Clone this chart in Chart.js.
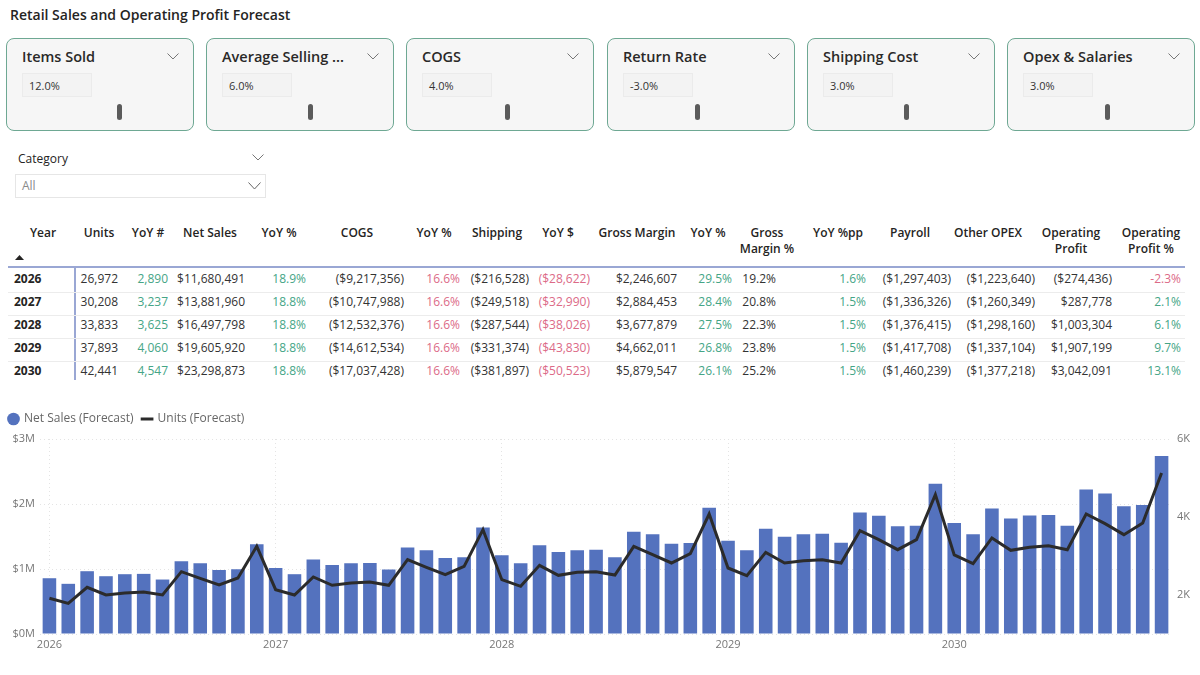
<!DOCTYPE html>
<html>
<head>
<meta charset="utf-8">
<script src="https://cdn.jsdelivr.net/npm/chart.js@4.4.1/dist/chart.umd.min.js"></script>
<style>
  body { margin: 0; width: 1200px; height: 675px; overflow: hidden; background: #fff;
         font-family: "Segoe UI", "Open Sans", sans-serif; color: #252423; position: relative; }
  .title { position: absolute; left: 10px; top: 5px; font-size: 14px; font-weight: 600; white-space: nowrap; }
  .card { position: absolute; top: 38px; width: 188px; height: 93px; border: 1.5px solid #6ea893;
          border-radius: 8px; background: #f6f6f6; box-sizing: border-box; }
  .card .name { position: absolute; left: 15px; top: 8px; font-size: 14.5px; font-weight: 600; white-space: nowrap; color: #2a2928; }
  .card svg { position: absolute; left: 160px; top: 14px; }
  .card .box { position: absolute; left: 15px; top: 34px; width: 70px; height: 24px; background: #f3f3f3;
               border: 1px solid #ebebeb; box-sizing: border-box; font-size: 11px; line-height: 23px; padding-left: 6px; color: #333; }
  .card .knob { position: absolute; top: 65px; width: 5px; height: 16px; border-radius: 2.5px; background: #5b5b5b; }
  .slicer-label { position: absolute; left: 18px; top: 150px; font-size: 12px; color: #252423; }
  .slicer-box { position: absolute; left: 15px; top: 174px; width: 251px; height: 24px; border: 1px solid #e6e6e6;
                box-sizing: border-box; font-size: 12px; line-height: 22px; padding-left: 6px; color: #8a8a8a; }
  .cell { position: absolute; font-size: 12px; white-space: nowrap; line-height: 16px; }
  .hd { font-weight: 600; color: #252423; text-align: center; transform: translateX(-50%); }
  .val { color: #333; transform: translateX(-100%); }
  .yr { font-weight: 700; color: #252423; }
  #wrap { position: absolute; left: 0; top: 404px; width: 1200px; height: 252px; }
</style>
</head>
<body>
<div class="title">Retail Sales and Operating Profit Forecast</div>
<div id="cards"></div>
<div class="slicer-label">Category</div>
<svg style="position:absolute;left:252px;top:154px" width="12" height="7"><polyline points="0.5,0.5 6,6 11.5,0.5" fill="none" stroke="#777" stroke-width="1"/></svg>
<div class="slicer-box">All</div>
<svg style="position:absolute;left:248px;top:182px" width="13" height="8"><polyline points="0.5,0.5 6.5,7 12.5,0.5" fill="none" stroke="#666" stroke-width="1"/></svg>
<div id="table"></div>
<div id="wrap"><canvas id="chart"></canvas></div>

<script>
// ---- scenario cards ----
const cardNames = ['Items Sold', 'Average Selling ...', 'COGS', 'Return Rate', 'Shipping Cost', 'Opex & Salaries'];
const cardValues = ['12.0%', '6.0%', '4.0%', '-3.0%', '3.0%', '3.0%'];
const cardLefts = [6, 206, 406, 607, 807, 1007];
const knobLefts = [110, 101, 98, 87, 96, 97];

// ---- yearly table ----
const years = [2026, 2027, 2028, 2029, 2030];
const yearUnits = [26972, 30208, 33833, 37893, 42441];
const yoyUnits = [2890, 3237, 3625, 4060, 4547];
const netSales = [11680491, 13881960, 16497798, 19605920, 23298873];
const yoyNetSales = [18.9, 18.8, 18.8, 18.8, 18.8];
const cogs = [-9217356, -10747988, -12532376, -14612534, -17037428];
const yoyCogs = [16.6, 16.6, 16.6, 16.6, 16.6];
const shipping = [-216528, -249518, -287544, -331374, -381897];
const yoyShipping = [-28622, -32990, -38026, -43830, -50523];
const grossMargin = [2246607, 2884453, 3677879, 4662011, 5879547];
const yoyGrossMargin = [29.5, 28.4, 27.5, 26.8, 26.1];
const grossMarginPct = [19.2, 20.8, 22.3, 23.8, 25.2];
const yoyMarginPp = [1.6, 1.5, 1.5, 1.5, 1.5];
const payroll = [-1297403, -1336326, -1376415, -1417708, -1460239];
const otherOpex = [-1223640, -1260349, -1298160, -1337104, -1377218];
const opProfit = [-274436, 287778, 1003304, 1907199, 3042091];
const opProfitPct = [-2.3, 2.1, 6.1, 9.7, 13.1];

// ---- monthly chart (60 months) ----
const chartYears = ['2026', '2027', '2028', '2029', '2030'];
const monthlyNetSales = [
  858000, 772000, 966000, 889000, 920000, 925000, 838000, 1119000, 1088000, 986000, 996000, 1380000,
  1017000, 920000, 1145000, 1063000, 1088000, 1094000, 991000, 1329000, 1288000, 1170000, 1180000, 1640000,
  1211000, 1088000, 1364000, 1262000, 1288000, 1298000, 1180000, 1574000, 1533000, 1390000, 1400000, 1942000,
  1436000, 1288000, 1620000, 1497000, 1533000, 1543000, 1405000, 1870000, 1819000, 1656000, 1666000, 2310000,
  1707000, 1533000, 1932000, 1778000, 1824000, 1829000, 1666000, 2223000, 2161000, 1967000, 1983000, 2739000
];
const monthlyUnits = [
  1915, 1786, 2197, 2000, 2051, 2077, 2000, 2598, 2427, 2256, 2436, 3248,
  2137, 2000, 2462, 2248, 2308, 2333, 2248, 2906, 2709, 2521, 2735, 3675,
  2393, 2222, 2761, 2504, 2581, 2598, 2513, 3248, 3034, 2821, 3060, 4077,
  2692, 2496, 3094, 2821, 2880, 2906, 2821, 3650, 3419, 3162, 3419, 4573,
  3026, 2803, 3462, 3145, 3222, 3265, 3162, 4077, 3829, 3547, 3846, 5128
];
const salesTicks = [0, 1000000, 2000000, 3000000];
const unitTicks = [2000, 4000, 6000];

const GREEN = '#45a586';
const RED = '#dc6a87';
const FONT = '"Segoe UI", "Open Sans", sans-serif';

// cards
const cardsEl = document.getElementById('cards');
cardNames.forEach((name, i) => {
    const c = document.createElement('div');
    c.className = 'card';
    c.style.left = cardLefts[i] + 'px';
    c.innerHTML = `<div class="name">${name}</div>
      <svg width="12" height="7"><polyline points="0.5,0.5 6,6 11.5,0.5" fill="none" stroke="#777" stroke-width="1"/></svg>
      <div class="box">${cardValues[i]}</div>
      <div class="knob" style="left:${knobLefts[i]}px"></div>`;
    cardsEl.appendChild(c);
});

// table
const fmtInt = v => Math.abs(v).toLocaleString('en-US');
const fmtMoney = v => v < 0 ? `($${fmtInt(v)})` : `$${fmtInt(v)}`;
const fmtPct = v => v.toFixed(1) + '%';
const sign = v => v < 0 ? RED : GREEN;

const columns = [
    { head: ['Units'], hc: 99, right: 118, data: yearUnits, fmt: fmtInt },
    { head: ['YoY #'], hc: 148, right: 168, data: yoyUnits, fmt: fmtInt, color: () => GREEN },
    { head: ['Net Sales'], hc: 210, right: 245, data: netSales, fmt: fmtMoney },
    { head: ['YoY %'], hc: 279, right: 306, data: yoyNetSales, fmt: fmtPct, color: () => GREEN },
    { head: ['COGS'], hc: 357, right: 404, data: cogs, fmt: fmtMoney },
    { head: ['YoY %'], hc: 434, right: 460, data: yoyCogs, fmt: fmtPct, color: () => RED },
    { head: ['Shipping'], hc: 497, right: 529, data: shipping, fmt: fmtMoney },
    { head: ['YoY $'], hc: 558, right: 590, data: yoyShipping, fmt: fmtMoney, color: () => RED },
    { head: ['Gross Margin'], hc: 637, right: 677, data: grossMargin, fmt: fmtMoney },
    { head: ['YoY %'], hc: 708, right: 732, data: yoyGrossMargin, fmt: fmtPct, color: () => GREEN },
    { head: ['Gross', 'Margin %'], hc: 767, right: 776, data: grossMarginPct, fmt: fmtPct },
    { head: ['YoY %pp'], hc: 838, right: 866, data: yoyMarginPp, fmt: fmtPct, color: () => GREEN },
    { head: ['Payroll'], hc: 910, right: 951, data: payroll, fmt: fmtMoney },
    { head: ['Other OPEX'], hc: 988, right: 1035, data: otherOpex, fmt: fmtMoney },
    { head: ['Operating', 'Profit'], hc: 1071, right: 1112, data: opProfit, fmt: fmtMoney },
    { head: ['Operating', 'Profit %'], hc: 1151, right: 1181, data: opProfitPct, fmt: fmtPct, color: sign }
];

const tableEl = document.getElementById('table');
let html = `<div class="cell hd" style="left:43px;top:225px">Year</div>
  <svg style="position:absolute;left:15px;top:255px" width="9" height="5"><polygon points="0,5 4.5,0 9,5" fill="#252423"/></svg>
  <div style="position:absolute;left:8px;top:266px;width:1177px;height:2px;background:#9aa7d4"></div>
  <div style="position:absolute;left:74px;top:266px;width:2px;height:114px;background:#9aa7d4"></div>`;
columns.forEach(col => {
    col.head.forEach((line, k) => {
        html += `<div class="cell hd" style="left:${col.hc}px;top:${225 + k * 16}px">${line}</div>`;
    });
});
years.forEach((yr, r) => {
    const top = 270.5 + r * 23;
    if (r > 0) html += `<div style="position:absolute;left:8px;top:${Math.round(top) - 2}px;width:1177px;height:1px;background:#ececec"></div>`;
    html += `<div class="cell yr" style="left:14px;top:${top}px">${yr}</div>`;
    columns.forEach(col => {
        const v = col.data[r];
        const color = col.color ? col.color(v) : '#333';
        html += `<div class="cell val" style="left:${col.right}px;top:${top}px;color:${color}">${col.fmt(v)}</div>`;
    });
});
tableEl.innerHTML = html;

// chart
const monthLabels = [];
chartYears.forEach(y => { for (let m = 1; m <= 12; m++) monthLabels.push(`${y}-${String(m).padStart(2, '0')}`); });

// a little extra room under the legend
const legendGap = {
    id: 'legendGap',
    beforeInit(chart) {
        const fit = chart.legend.fit;
        chart.legend.fit = function () {
            fit.call(this);
            this.height += 4;
        };
    }
};

new Chart(document.getElementById('chart'), {
    data: {
        labels: monthLabels,
        datasets: [
            {
                type: 'bar',
                label: 'Net Sales (Forecast)',
                data: monthlyNetSales,
                yAxisID: 'ySales',
                backgroundColor: '#5472be',
                barPercentage: 0.72,
                categoryPercentage: 1,
                pointStyle: 'circle',
                order: 2
            },
            {
                type: 'line',
                label: 'Units (Forecast)',
                data: monthlyUnits,
                yAxisID: 'yUnits',
                borderColor: '#2b2b2b',
                backgroundColor: '#2b2b2b',
                borderWidth: 3,
                pointRadius: 0,
                tension: 0,
                pointStyle: 'line',
                order: 1
            }
        ]
    },
    plugins: [legendGap],
    options: {
        responsive: true,
        maintainAspectRatio: false,
        animation: false,
        plugins: {
            legend: {
                display: true,
                position: 'top',
                align: 'start',
                labels: {
                    usePointStyle: true,
                    boxWidth: 9,
                    boxHeight: 9,
                    padding: 9,
                    color: '#666',
                    font: { family: FONT, size: 12 },
                    sort: (a, b) => a.datasetIndex - b.datasetIndex
                }
            },
            tooltip: { enabled: false }
        },
        scales: {
            x: {
                grid: {
                    offset: false,
                    drawTicks: false,
                    color: ctx => ctx.index % 12 === 0 ? '#e4e4e4' : 'transparent'
                },
                border: { display: false, dash: [1, 3] },
                ticks: {
                    autoSkip: false,
                    maxRotation: 0,
                    padding: 4,
                    color: '#777',
                    font: { family: FONT, size: 11 },
                    callback: (v, i) => i % 12 === 0 ? monthLabels[i].slice(0, 4) : ''
                },
                afterFit: s => { s.height = 22; }
            },
            ySales: {
                position: 'left',
                min: 0,
                max: 3000000,
                afterBuildTicks: s => { s.ticks = salesTicks.map(v => ({ value: v })); },
                grid: { color: '#e4e4e4', drawTicks: false },
                border: { display: false, dash: [1, 3] },
                ticks: {
                    padding: 5,
                    color: '#777',
                    font: { family: FONT, size: 11 },
                    callback: v => '$' + (v / 1000000) + 'M'
                },
                afterFit: s => { s.width = 40; }
            },
            yUnits: {
                position: 'right',
                min: 1000,
                max: 6000,
                afterBuildTicks: s => { s.ticks = unitTicks.map(v => ({ value: v })); },
                grid: { display: false, drawTicks: false },
                border: { display: false },
                ticks: {
                    padding: 6,
                    color: '#777',
                    font: { family: FONT, size: 11 },
                    callback: v => (v / 1000) + 'K'
                },
                afterFit: s => { s.width = 29; }
            }
        }
    }
});
</script>
</body>
</html>
